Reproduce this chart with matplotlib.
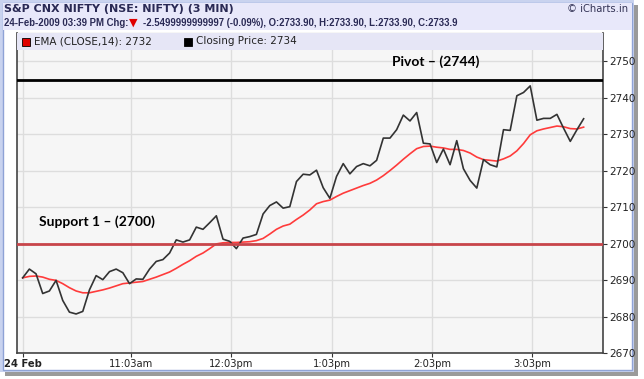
import matplotlib
matplotlib.use('Agg')
import matplotlib.pyplot as plt
import numpy as np
from matplotlib.patches import Rectangle

# Closing price (3-min bars) and EMA(14)
close = [2690.6, 2693.0, 2691.7, 2686.3, 2687.0, 2689.9, 2684.4, 2681.2, 2680.7, 2681.4,
         2687.3, 2691.2, 2690.1, 2692.3, 2693.0, 2692.0, 2689.0, 2690.3, 2690.2, 2693.0,
         2695.1, 2695.6, 2697.4, 2701.0, 2700.4, 2701.0, 2704.5, 2703.9, 2705.7, 2707.6,
         2701.2, 2700.6, 2698.6, 2701.5, 2701.9, 2702.5, 2708.1, 2710.4, 2711.4, 2709.7,
         2710.1, 2717.0, 2719.0, 2718.8, 2720.1, 2715.3, 2712.4, 2718.4, 2721.9, 2719.1,
         2721.1, 2721.9, 2721.3, 2722.8, 2728.9, 2728.9, 2731.2, 2735.2, 2733.6, 2735.9,
         2727.5, 2727.3, 2722.2, 2725.9, 2721.6, 2728.2, 2720.5, 2717.3, 2715.2, 2723.0,
         2721.6, 2721.0, 2731.2, 2731.0, 2740.5, 2741.4, 2743.2, 2733.8, 2734.3, 2734.3,
         2735.4, 2731.6, 2728.0, 2731.2, 2734.2]
ema = [2690.6, 2691.0, 2691.1, 2690.8, 2690.2, 2689.9, 2689.0, 2687.9, 2687.0, 2686.5,
       2686.5, 2686.9, 2687.3, 2687.8, 2688.4, 2689.0, 2689.2, 2689.4, 2689.6, 2690.2,
       2690.8, 2691.5, 2692.2, 2693.2, 2694.3, 2695.3, 2696.5, 2697.4, 2698.6, 2699.9,
       2700.2, 2700.3, 2700.3, 2700.4, 2700.5, 2700.8, 2701.4, 2702.6, 2703.9, 2704.8,
       2705.3, 2706.6, 2707.8, 2709.2, 2710.9, 2711.5, 2711.9, 2712.9, 2713.8, 2714.5,
       2715.2, 2715.9, 2716.5, 2717.4, 2718.6, 2720.0, 2721.5, 2723.1, 2724.6, 2726.0,
       2726.6, 2726.7, 2726.4, 2726.2, 2725.8, 2725.8, 2725.5, 2724.8, 2723.7, 2723.0,
       2722.8, 2722.6, 2723.2, 2724.0, 2725.4, 2727.4, 2729.8, 2730.9, 2731.4, 2731.8,
       2732.2, 2732.0, 2731.5, 2731.4, 2731.9]
pivot = 2744.8
support = 2700
tick_pos = [0, 16.2, 31.2, 46.3, 61.3, 76.3]
tick_labels = ['24 Feb', '11:03am', '12:03pm', '1:03pm', '2:03pm', '3:03pm']
y_ticks = [2670, 2680, 2690, 2700, 2710, 2720, 2730, 2740, 2750]

W, H = 644, 379
fig = plt.figure(figsize=(W / 100, H / 100), dpi=100)
fig.patch.set_facecolor('white')

# outer frame + header band
def fig_rect(x0, y0, w, h, **kw):
    fig.patches.append(Rectangle((x0 / W, 1 - (y0 + h) / H), w / W, h / H,
                                 transform=fig.transFigure, zorder=-10, **kw))

fig_rect(0, 0, 634, 372, facecolor='#c9d3ef', edgecolor='none')
fig_rect(3, 3, 629, 367, facecolor='white', edgecolor='#8fa3d6', lw=1)
fig_rect(3, 3, 629, 27, facecolor='#e8e8fa', edgecolor='none')
fig_rect(5, 372, 630, 4, facecolor='#9a9a9a', edgecolor='none')
fig_rect(634, 5, 4, 371, facecolor='#9a9a9a', edgecolor='none')

fig.text(4 / W, 1 - 9 / H, 'S&P CNX NIFTY (NSE: NIFTY) (3 MIN)', va='center',
         fontsize=8.0, fontweight='bold', color='#2a2a55')
hdr = dict(fontsize=6.9, fontweight='bold', color='#2a2a55', family='Liberation Sans')
fig.text(4 / W, 1 - 23 / H, '24-Feb-2009 03:39 PM Chg:', va='center', **hdr)
fig.text(129 / W, 1 - 23 / H, '\u25BC', va='center', ha='left', fontsize=8, color='#e00000')
fig.text(143 / W, 1 - 23 / H,
         '-2.5499999999997 (-0.09%), O:2733.90, H:2733.90, L:2733.90, C:2733.9',
         va='center', **hdr)
fig.text(628 / W, 1 - 9 / H, '\u00a9 iCharts.in', va='center', ha='right',
         fontsize=7.2, color='#333355')

ax = fig.add_axes([17 / W, 1 - 353 / H, 586 / W, 320 / H])
ax.set_facecolor('#f6f6f6')
x = np.arange(len(close))
ax.plot(x, close, color='#333333', lw=1.2, zorder=4)
ax.plot(x, ema, color='#ff3b3b', lw=1.2, zorder=3)
ax.axhline(pivot, color='black', lw=2, zorder=5)
ax.axhline(support, color='#c8454a', lw=2, zorder=5)

ax.set_xlim(-0.85, 86.9)
ax.set_ylim(2670, 2757.7)
ax.set_xticks(tick_pos)
ax.set_xticklabels(tick_labels, fontsize=7.2, color='#222222')
ax.get_xticklabels()[0].set_fontweight('bold')
ax.set_yticks(y_ticks)
ax.set_yticklabels([str(v) for v in y_ticks], fontsize=7.5, color='#222222')
ax.yaxis.tick_right()
ax.tick_params(axis='both', length=3, width=0.8, pad=1.5, color='#333333')
ax.grid(True, color='#dddddd', lw=1)
ax.spines['top'].set_color('#666666')
ax.spines['top'].set_linewidth(0.8)
for side in ['left', 'bottom', 'right']:
    ax.spines[side].set_color('#444444')
    ax.spines[side].set_linewidth(1.2)

# legend band inside plot
ax.add_patch(Rectangle((0, 1 - 17 / 320), 1, 17 / 320, transform=ax.transAxes,
                       facecolor='#e6e6f6', edgecolor='none', zorder=6))
ax.add_patch(Rectangle((5 / 586, 1 - 13 / 320), 8 / 586, 8 / 320, transform=ax.transAxes,
                       facecolor='#e00000', edgecolor='black', lw=0.6, zorder=7))
ax.text(17 / 586, 1 - 8.5 / 320, 'EMA (CLOSE,14): 2732', transform=ax.transAxes,
        fontsize=7.5, va='center', color='#222222', zorder=7)
ax.add_patch(Rectangle((167 / 586, 1 - 13 / 320), 8 / 586, 8 / 320, transform=ax.transAxes,
                       facecolor='black', edgecolor='black', lw=0.6, zorder=7))
ax.text(179 / 586, 1 - 8.5 / 320, 'Closing Price: 2734', transform=ax.transAxes,
        fontsize=7.5, va='center', color='#222222', zorder=7)

ax.text(61.9, 2749.8, 'Pivot \u2013 (2744)', ha='center', va='center',
        fontsize=10, fontweight='bold', family='Lato', zorder=7)
ax.text(2.4, 2705.9, 'Support 1 \u2013 (2700)', ha='left', va='center',
        fontsize=10, fontweight='bold', family='Lato', zorder=7)

fig.savefig('out.png', dpi=100)
